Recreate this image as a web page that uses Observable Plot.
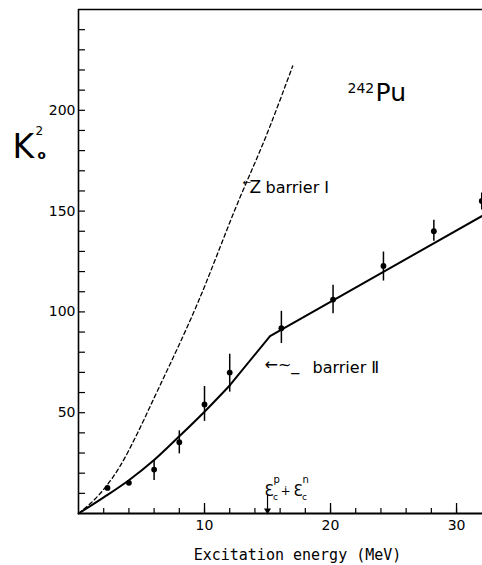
<!DOCTYPE html>
<html><head><meta charset="utf-8">
<script src="https://cdn.jsdelivr.net/npm/d3@7"></script>
<script src="https://cdn.jsdelivr.net/npm/@observablehq/plot@0.6"></script>
<style>body{margin:0;background:#fff}svg{display:block}</style>
</head><body><div id="chart"></div>
<script>
// ---- data ----
const energy   = [2.3, 4, 6, 8, 10, 12, 16.1, 20.2, 24.2, 28.2, 32];
const k2       = [12.7, 15.2, 21.8, 35.4, 54.1, 69.9, 91.9, 106.1, 122.8, 140, 155];
const errLow   = [null, null, 16.4, 29.6, 45.7, 60.2, 84.3, 99.1, 115.3, 135, 150.5];
const errHigh  = [null, null, 26.5, 41, 63, 79, 100.3, 113.2, 129.7, 145.5, 159];

// barrier II fit (solid): curved part at low energy, then straight segments
const fitCurveE = [0, 2, 4, 6, 8, 10, 12];
const fitCurveK = [0, 8, 16.5, 26.5, 38.3, 50.5, 63.5];
const fitLineE  = [12, 15.2, 32];
const fitLineK  = [63.5, 88, 147.5];

// barrier I (dashed)
const b1E = [0, 1.2, 2.2, 3.3, 4.66, 5.9, 9.5, 12.5, 15, 17];
const b1K = [0, 6.5, 13.5, 23.5, 39.6, 56, 105, 152, 189, 222];

const coulombE = 15;               // ε_c^p ∔ ε_c^n marker
const xMajorTicks = [10, 20, 30];
const xMinorTicks = d3.range(2, 32, 2);
const yLabelTicks = [50, 100, 150, 200];
const yMinorTicks = d3.range(10, 250, 10);

// ---- build ----
const points = energy.map((e, i) => ({e, k: k2[i], lo: errLow[i], hi: errHigh[i]}));
const bars = points.filter(d => d.lo != null);
const curve = fitCurveE.map((e, i) => ({e, k: fitCurveK[i]}));
const line2 = fitLineE.map((e, i) => ({e, k: fitLineK[i]}));
const b1 = b1E.map((e, i) => ({e, k: b1K[i]}));

const W = 482, H = 565, ML = 78, MT = 9, MR = 0, MB = 52;
const X0 = 0, X1 = 32.06, Y0 = 0, Y1 = 250;
const PW = W - ML - MR, PH = H - MT - MB;
// inward tick lengths (px) converted to data units
const yTickLen = 7 * (X1 - X0) / PW;
const xMinorLen = 5 * (Y1 - Y0) / PH;
const xMajorLen = 10 * (Y1 - Y0) / PH;
const FONT = "DejaVu Sans, sans-serif";
function note(text, x, y, size, extra = {}) {
  return Plot.text([text], {
    text: d => d, frameAnchor: "top-left", dx: x - ML, dy: y - MT,
    fontSize: size, textAnchor: "start", lineAnchor: "bottom",
    fontFamily: FONT, fill: "#000", ...extra
  });
}

const chart = Plot.plot({
  width: W, height: H,
  marginLeft: ML, marginTop: MT, marginRight: MR, marginBottom: MB,
  style: {background: "#fff", color: "#000", fontFamily: FONT},
  x: {domain: [X0, X1]},
  y: {domain: [Y0, Y1]},
  marks: [
    // axes lines
    Plot.ruleX([0], {stroke: "#000", strokeWidth: 1.6}),
    Plot.ruleY([0], {stroke: "#000", strokeWidth: 2}),
    Plot.ruleY([250], {stroke: "#000", strokeWidth: 1.6}),
    // inward ticks
    Plot.ruleY(yMinorTicks, {y: d => d, x1: X0, x2: X0 + yTickLen, stroke: "#000", strokeWidth: 1.2}),
    Plot.ruleX(xMinorTicks, {x: d => d, y1: Y0, y2: Y0 + xMinorLen, stroke: "#000", strokeWidth: 1.2}),
    Plot.ruleX(xMajorTicks, {x: d => d, y1: Y0, y2: Y0 + xMajorLen, stroke: "#000", strokeWidth: 1.3}),
    // tick labels
    Plot.axisY({ticks: yLabelTicks, tickSize: 0, tickPadding: 3, fontSize: 14, label: null}),
    Plot.axisX({ticks: xMajorTicks, tickSize: 0, tickPadding: 7, fontSize: 14, label: null}),
    // barrier I dashed
    Plot.line(b1, {x: "e", y: "k", curve: "monotone-x", stroke: "#000", strokeWidth: 1.3, strokeDasharray: "4,3"}),
    // barrier II fit
    Plot.line(curve, {x: "e", y: "k", curve: "monotone-x", stroke: "#000", strokeWidth: 2}),
    Plot.line(line2, {x: "e", y: "k", stroke: "#000", strokeWidth: 2}),
    // data
    Plot.ruleX(bars, {x: "e", y1: "lo", y2: "hi", stroke: "#000", strokeWidth: 1.5}),
    Plot.dot(points, {x: "e", y: "k", r: 2.9, fill: "#000", stroke: null}),
    // coulomb barrier arrow
    Plot.ruleX([coulombE], {x: d => d, y1: 2, y2: 9, stroke: "#000", strokeWidth: 1.2}),
    Plot.dot([coulombE], {x: d => d, y: 0, symbol: "triangle", rotate: 180, r: 2.6, dy: -3, fill: "#000", stroke: null}),
    // annotations
    note("K", 12, 157, 33),
    note("2", 35, 134, 12),
    note("o", 37, 158, 12, {fontWeight: "bold"}),
    note("242", 347, 92, 14),
    note("Pu", 375, 100, 25),
    note("←", 242, 185, 10),
    note("Z", 249, 192, 17),
    note("barrier Ⅰ", 265, 192, 16),
    note("←~_", 264, 369, 16),
    note("barrier Ⅱ", 312, 372, 16),
    note("Ɛ", 264, 495, 15),
    note("p", 273, 482, 10),
    note("c", 272.5, 499, 9),
    note("∔", 280, 494, 12),
    note("Ɛ", 293, 495, 15),
    note("n", 302, 482, 10),
    note("c", 301.5, 499, 9),
    note("Excitation energy (MeV)", 297, 559, 15, {textAnchor: "middle", fontFamily: "DejaVu Sans Mono, monospace"})
  ]
});
document.getElementById("chart").appendChild(chart);
</script>
</body></html>
